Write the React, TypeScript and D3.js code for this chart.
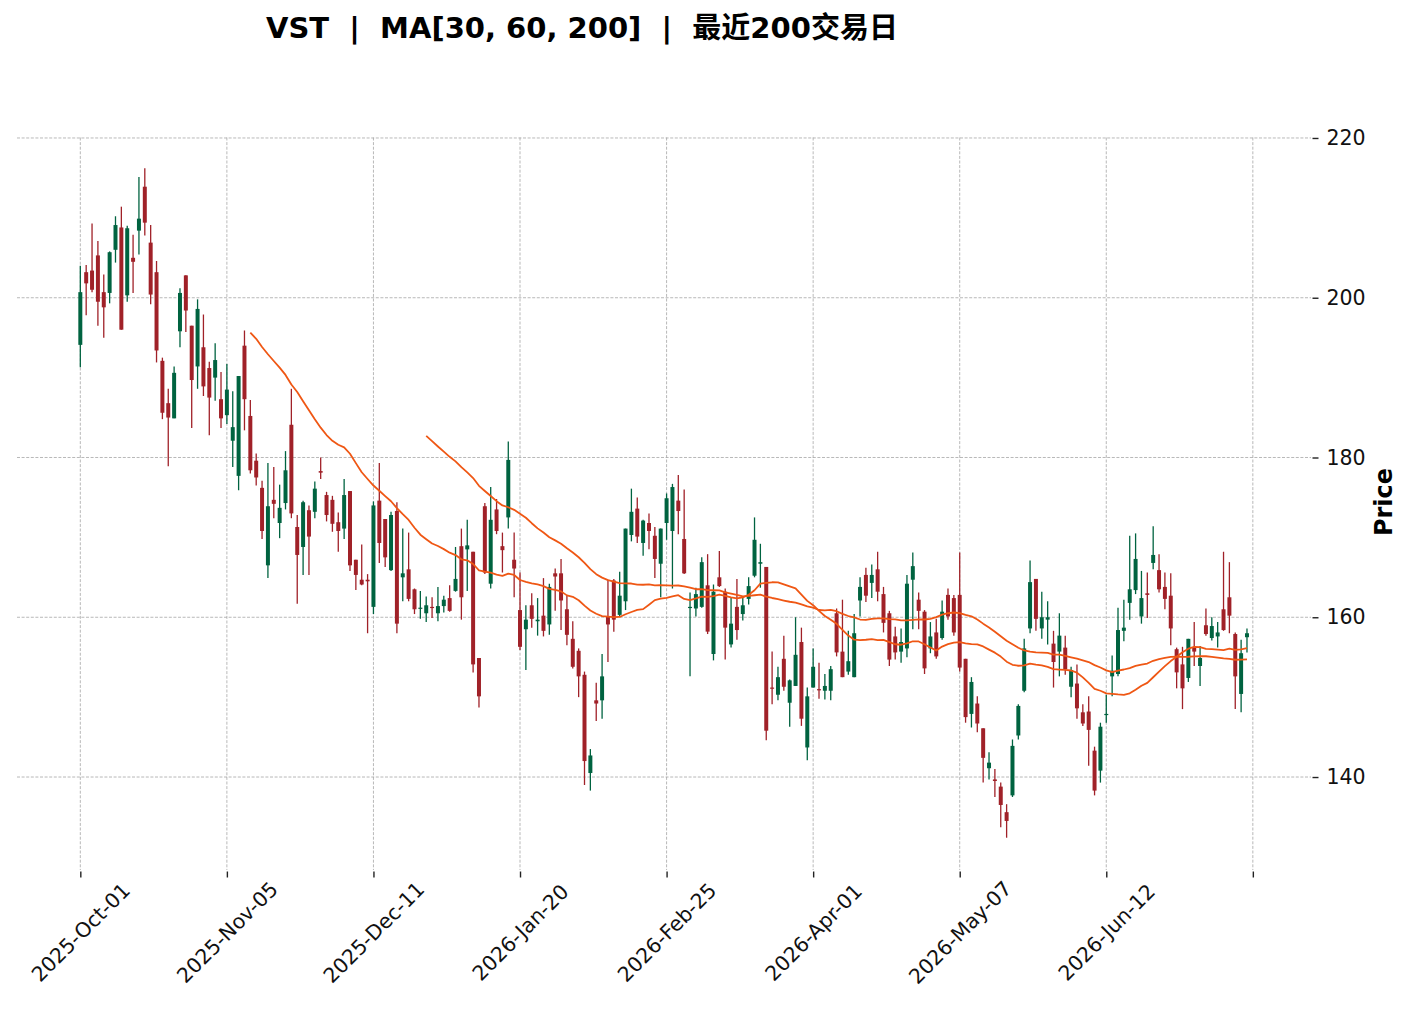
import React, { useRef, useEffect } from "react";
import * as d3 from "d3";

// daily OHLC, 200 sessions starting 2025-10-01
const opens = [
  194.1, 203.2, 203.4, 205.3, 200.7, 200.6, 206.0, 208.8, 200.3, 205.0,
  208.4, 213.9, 206.9, 203.2, 192.1, 186.8, 184.9, 195.8, 202.8, 196.5,
  191.4, 193.8, 191.2, 190.0, 187.3, 185.3, 182.1, 177.7, 194.0, 185.2,
  179.6, 176.2, 166.5, 174.7, 171.8, 174.3, 184.1, 171.3, 168.8, 173.4,
  173.2, 178.3, 175.3, 174.7, 171.9, 171.1, 175.8, 167.2, 164.7, 164.7,
  161.3, 174.6, 172.3, 165.9, 173.3, 165.0, 166.0, 163.5, 161.1, 160.5,
  161.3, 160.5, 161.4, 162.4, 163.3, 168.9, 168.5, 168.2, 154.9, 173.9,
  164.2, 173.5, 168.9, 172.5, 167.2, 160.9, 158.5, 161.5, 159.5, 160.2,
  159.1, 165.5, 165.5, 161.0, 157.3, 155.8, 152.8, 140.5, 149.6, 149.6,
  160.1, 164.6, 160.3, 162.0, 170.3, 173.6, 169.3, 171.8, 170.2, 166.7,
  171.8, 170.8, 174.6, 169.8, 161.2, 161.1, 161.3, 164.0, 155.4, 165.0,
  163.2, 156.6, 161.3, 160.4, 162.3, 165.2, 166.7, 166.3, 151.2, 150.3,
  154.8, 149.3, 151.4, 156.9, 143.7, 151.2, 151.0, 150.8, 150.8, 160.5,
  155.7, 153.2, 152.5, 162.1, 165.3, 164.3, 166.0, 162.9, 160.5, 157.6,
  155.7, 156.1, 164.7, 162.2, 160.7, 156.1, 158.1, 157.4, 162.8, 162.4,
  162.8, 154.8, 147.9, 149.2, 146.1, 141.1, 139.7, 138.8, 135.6, 137.7,
  145.2, 150.8, 158.6, 164.8, 158.6, 159.7, 156.7, 155.7, 156.2, 151.3,
  151.7, 148.1, 148.2, 143.3, 140.8, 147.8, 152.6, 152.9, 158.3, 161.8,
  163.4, 160.1, 163.0, 166.8, 165.9, 163.8, 162.7, 156.0, 154.1, 152.4,
  156.2, 153.9, 159.0, 157.4, 157.6, 161.0, 162.5, 157.9, 150.4, 157.5,
];

const highs = [
  204.0, 204.1, 209.3, 207.1, 202.9, 205.8, 210.2, 211.4, 209.0, 207.9,
  215.1, 216.2, 209.1, 204.6, 192.5, 188.6, 191.4, 201.2, 202.8, 196.5,
  199.8, 197.9, 192.0, 194.3, 190.7, 191.7, 188.3, 190.2, 195.9, 187.2,
  180.5, 177.1, 179.3, 178.8, 176.6, 180.8, 188.6, 172.8, 174.6, 174.0,
  177.0, 180.0, 175.7, 175.2, 173.1, 177.3, 175.8, 167.2, 169.1, 165.4,
  174.5, 179.3, 172.3, 173.2, 174.4, 171.1, 170.6, 163.6, 163.3, 162.6,
  162.5, 163.8, 162.7, 164.0, 168.8, 171.1, 172.2, 168.2, 154.9, 174.3,
  176.3, 174.8, 170.6, 182.0, 170.6, 165.6, 161.5, 163.0, 162.4, 164.9,
  164.2, 166.1, 167.3, 162.8, 159.5, 156.1, 153.2, 143.5, 151.8, 155.4,
  164.7, 164.8, 165.7, 171.1, 176.1, 175.0, 172.2, 173.0, 171.3, 171.1,
  175.5, 176.7, 177.8, 176.0, 163.1, 163.7, 167.5, 167.9, 164.1, 168.3,
  163.6, 162.4, 164.8, 162.5, 165.0, 172.5, 169.2, 166.3, 155.7, 153.8,
  157.7, 152.2, 160.0, 158.7, 151.2, 156.1, 154.3, 152.9, 153.9, 161.1,
  162.2, 158.3, 160.4, 165.0, 166.2, 166.6, 168.2, 163.8, 160.8, 158.8,
  158.6, 165.3, 168.1, 163.1, 160.9, 159.4, 159.8, 162.1, 163.6, 162.8,
  168.1, 154.8, 152.5, 150.1, 146.1, 143.1, 141.0, 139.3, 136.6, 144.7,
  149.1, 157.3, 167.1, 164.8, 163.2, 162.0, 158.3, 160.5, 157.7, 153.8,
  154.1, 149.1, 150.1, 143.8, 146.8, 150.3, 155.2, 161.2, 162.2, 170.2,
  170.5, 165.8, 165.6, 171.4, 167.9, 165.6, 165.5, 156.2, 156.3, 157.3,
  159.4, 156.4, 161.1, 160.0, 159.4, 168.2, 166.9, 158.1, 157.2, 158.6,
];

const lows = [
  191.3, 197.8, 200.7, 196.5, 195.0, 199.3, 204.4, 196.0, 199.5, 200.6,
  205.4, 207.8, 199.2, 191.9, 184.8, 178.9, 184.9, 193.8, 195.7, 183.7,
  188.6, 187.7, 182.8, 187.1, 183.7, 184.2, 178.8, 175.9, 183.4, 178.0,
  176.5, 169.8, 164.9, 172.4, 169.9, 173.5, 172.4, 161.7, 165.3, 165.3,
  172.4, 177.3, 172.0, 170.7, 168.2, 169.8, 165.8, 163.4, 164.0, 158.0,
  160.4, 166.8, 166.3, 165.8, 158.0, 162.0, 162.0, 160.4, 159.8, 159.4,
  159.9, 159.5, 160.6, 160.7, 163.2, 159.7, 163.3, 153.1, 148.7, 165.4,
  163.6, 170.4, 165.6, 171.1, 162.5, 155.9, 153.4, 158.7, 157.7, 157.6,
  157.8, 160.8, 158.4, 156.5, 153.6, 150.0, 139.0, 138.3, 147.0, 147.3,
  154.4, 158.2, 160.1, 160.9, 169.5, 169.3, 167.7, 168.5, 164.9, 162.5,
  169.7, 163.6, 170.4, 165.4, 152.6, 160.1, 161.2, 157.9, 154.6, 163.8,
  154.7, 156.2, 157.2, 159.6, 161.6, 165.0, 163.7, 144.6, 149.1, 149.6,
  150.8, 146.3, 151.4, 146.4, 142.1, 151.2, 149.8, 149.7, 149.6, 155.1,
  152.5, 152.8, 152.5, 160.1, 161.9, 162.4, 162.0, 158.1, 153.9, 154.7,
  154.3, 155.0, 158.5, 158.5, 152.9, 155.5, 154.8, 157.2, 159.7, 157.7,
  153.2, 146.8, 146.2, 145.6, 139.3, 139.7, 137.5, 133.7, 132.4, 137.5,
  144.7, 150.6, 158.0, 158.3, 157.3, 156.6, 151.2, 152.6, 152.8, 150.0,
  147.3, 146.4, 141.4, 137.7, 139.3, 146.8, 150.1, 152.6, 157.0, 159.7,
  162.9, 159.2, 159.9, 166.0, 163.1, 161.0, 156.5, 151.1, 148.5, 151.9,
  153.9, 151.4, 157.7, 157.1, 156.2, 158.3, 158.0, 148.5, 148.1, 155.6,
];

const closes = [
  200.7, 201.8, 201.0, 199.5, 198.8, 205.7, 209.1, 196.0, 208.7, 204.5,
  209.9, 209.4, 200.4, 193.4, 185.6, 185.0, 190.6, 200.6, 198.4, 189.7,
  198.6, 188.9, 187.5, 192.2, 184.9, 188.5, 183.8, 190.2, 187.3, 178.4,
  177.5, 170.8, 173.9, 174.2, 173.7, 178.4, 173.0, 167.8, 174.4, 170.1,
  176.1, 178.1, 172.8, 171.7, 170.8, 175.3, 166.5, 165.3, 164.1, 164.5,
  174.0, 169.3, 167.5, 172.8, 159.2, 165.5, 162.3, 161.0, 161.2, 161.5,
  161.2, 161.4, 162.2, 160.8, 164.8, 162.5, 169.0, 154.1, 150.1, 165.6,
  172.2, 170.8, 168.4, 179.7, 166.1, 156.3, 159.7, 159.8, 159.7, 158.3,
  163.8, 165.1, 162.1, 157.8, 153.8, 152.6, 142.0, 142.7, 149.2, 152.6,
  159.1, 159.7, 162.7, 171.1, 173.2, 170.1, 172.1, 170.8, 167.3, 171.1,
  174.9, 176.3, 173.3, 165.5, 161.3, 162.9, 166.9, 158.2, 163.2, 163.9,
  158.7, 159.2, 158.4, 161.5, 163.9, 169.7, 166.9, 145.8, 151.1, 152.5,
  151.3, 152.1, 155.3, 147.3, 150.1, 153.8, 150.9, 151.4, 153.5, 155.6,
  152.5, 154.5, 158.0, 163.8, 162.7, 165.3, 163.2, 159.3, 154.7, 155.6,
  156.9, 164.2, 166.4, 160.8, 153.6, 157.6, 155.1, 160.7, 160.1, 158.1,
  153.7, 147.5, 151.9, 146.7, 142.4, 141.8, 139.5, 136.5, 134.5, 143.9,
  148.9, 156.1, 164.4, 159.8, 160.0, 160.0, 154.4, 157.7, 153.5, 153.4,
  148.6, 146.7, 145.9, 138.3, 146.3, 147.9, 153.3, 158.4, 158.7, 163.5,
  167.3, 162.4, 162.8, 167.8, 163.5, 162.3, 158.6, 153.1, 151.1, 157.3,
  155.7, 154.9, 157.9, 158.9, 158.1, 158.4, 160.2, 152.6, 155.5, 158.0,
];

// one label every 25 sessions; the last tick falls past the data
const xTickIndex = [0, 25, 50, 75, 100, 125, 150, 175, 200];
const xTickLabels = [
  "2025-Oct-01", "2025-Nov-05", "2025-Dec-11", "2026-Jan-20",
  "2026-Feb-25", "2026-Apr-01", "2026-May-07", "2026-Jun-12", "",
];
const yTicks = [140, 160, 180, 200, 220];
const maPeriods = [30, 60, 200];

const UP = "#006340";
const DOWN = "#a02128";
const MA_COLORS = ["#ef5714", "#ef5714", "#9f4878"];
const FONT = "'DejaVu Sans', 'Noto Sans CJK SC', sans-serif";

const App: React.FC = () => {
  const svgRef = useRef<SVGSVGElement>(null);

  useEffect(() => {
    const svg = d3.select(svgRef.current);
    svg.selectAll("*").remove();

    const plot = { left: 17, right: 1311, top: 137.5, bottom: 870 };

    const x = d3.scaleLinear().domain([-10.8, 209.92]).range([plot.left, plot.right]);
    const y = d3.scaleLinear().domain([128.36, 220.06]).range([plot.bottom, plot.top]);

    // grid
    const grid = svg.append("g");
    grid
      .selectAll(".hgrid")
      .data(yTicks)
      .enter()
      .append("line")
      .attr("x1", plot.left)
      .attr("x2", plot.right)
      .attr("y1", (d) => y(d))
      .attr("y2", (d) => y(d))
      .attr("stroke", "#a6a6a6")
      .attr("stroke-width", 0.8)
      .attr("stroke-dasharray", "3,1.6");
    grid
      .selectAll(".vgrid")
      .data(xTickIndex)
      .enter()
      .append("line")
      .attr("x1", (d) => x(d))
      .attr("x2", (d) => x(d))
      .attr("y1", plot.top)
      .attr("y2", plot.bottom)
      .attr("stroke", "#a6a6a6")
      .attr("stroke-width", 0.8)
      .attr("stroke-dasharray", "3,1.6");

    // candles
    const idx = d3.range(closes.length);
    const bodyW = (x(1) - x(0)) * 0.68;
    const color = (i: number) => (closes[i] >= opens[i] ? UP : DOWN);

    const candles = svg.append("g");
    candles
      .selectAll(".wick")
      .data(idx)
      .enter()
      .append("line")
      .attr("x1", (i) => x(i))
      .attr("x2", (i) => x(i))
      .attr("y1", (i) => y(highs[i]))
      .attr("y2", (i) => y(lows[i]))
      .attr("stroke", color)
      .attr("stroke-width", 1.3);
    candles
      .selectAll(".body")
      .data(idx)
      .enter()
      .append("rect")
      .attr("x", (i) => x(i) - bodyW / 2)
      .attr("y", (i) => y(Math.max(opens[i], closes[i])))
      .attr("width", bodyW)
      .attr("height", (i) => Math.max(1.2, Math.abs(y(opens[i]) - y(closes[i]))))
      .attr("fill", color);

    // moving averages of the close
    maPeriods.forEach((p, k) => {
      const pts = idx
        .filter((i) => i >= p - 1)
        .map((i) => [i, d3.mean(closes.slice(i - p + 1, i + 1)) as number] as [number, number]);
      if (pts.length < 2) return;
      svg
        .append("path")
        .datum(pts)
        .attr("fill", "none")
        .attr("stroke", MA_COLORS[k])
        .attr("stroke-width", 1.8)
        .attr("stroke-linejoin", "round")
        .attr("d", d3.line<[number, number]>().x((d) => x(d[0])).y((d) => y(d[1])));
    });

    // right axis
    const yAxis = svg
      .append("g")
      .attr("transform", `translate(${plot.right + 1.5},0)`)
      .call(d3.axisRight(y).tickValues(yTicks).tickSize(6).tickPadding(8));
    yAxis.select(".domain").remove();
    yAxis.selectAll("line").attr("stroke", "#222").attr("stroke-width", 1.4);
    yAxis
      .selectAll("text")
      .attr("font-family", FONT)
      .attr("font-size", 20.5)
      .attr("fill", "#111");

    // bottom axis
    const xAxis = svg
      .append("g")
      .attr("transform", `translate(0,${plot.bottom + 1.5})`)
      .call(
        d3
          .axisBottom(x)
          .tickValues(xTickIndex)
          .tickSize(6)
          .tickFormat((_d, i) => xTickLabels[i])
      );
    xAxis.select(".domain").remove();
    xAxis.selectAll("line").attr("stroke", "#222").attr("stroke-width", 1.4);
    xAxis
      .selectAll("text")
      .attr("font-family", FONT)
      .attr("font-size", 20.5)
      .attr("fill", "#111")
      .attr("text-anchor", "middle")
      .attr("dominant-baseline", "central")
      .attr("dy", null)
      .attr("y", 0)
      .attr("transform", "translate(0,61) rotate(-45)");

    // axis label
    svg
      .append("text")
      .attr("transform", "translate(1384,502) rotate(-90)")
      .attr("text-anchor", "middle")
      .attr("dominant-baseline", "central")
      .attr("font-family", FONT)
      .attr("font-weight", "bold")
      .attr("font-size", 24)
      .attr("fill", "#000")
      .text("Price");

    // title
    svg
      .append("text")
      .attr("x", 266)
      .attr("y", 38)
      .attr("font-family", FONT)
      .attr("font-weight", "bold")
      .attr("font-size", 29)
      .attr("fill", "#000")
      .attr("xml:space", "preserve")
      .style("white-space", "pre")
      .text("VST  |  MA[30, 60, 200]  |  最近200交易日");
  }, []);

  return (
    <svg
      ref={svgRef}
      width={1412}
      height={1011}
      style={{ position: "absolute", left: 0, top: 0, background: "#fff" }}
    />
  );
};

export default App;
